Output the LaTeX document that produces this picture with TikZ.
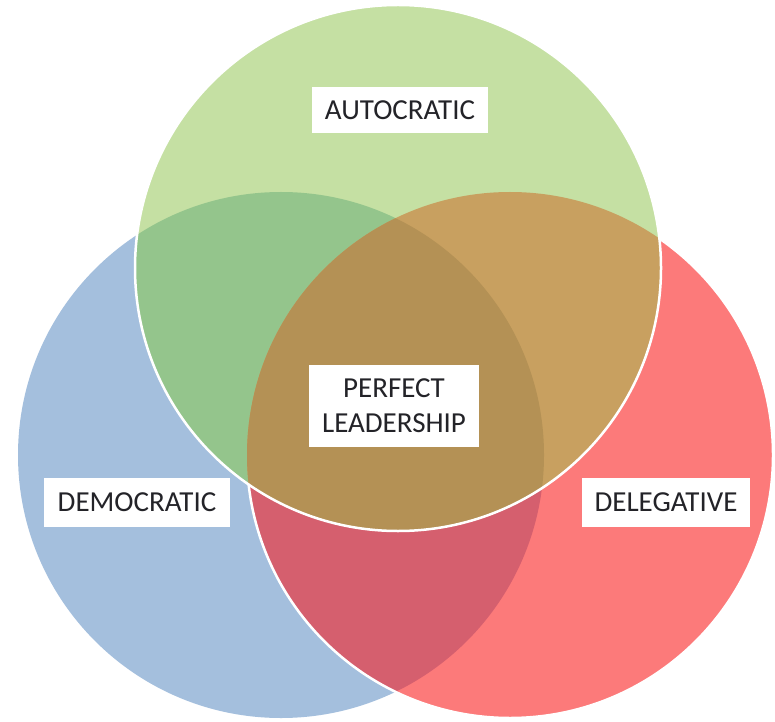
\documentclass[tikz,border=0pt]{standalone}
\usepackage{fontspec}
\setmainfont{Carlito}
\usepackage{xcolor}
\definecolor{grn}{RGB}{197,224,163}
\definecolor{blu}{RGB}{164,191,221}
\definecolor{rd}{RGB}{252,122,122}
\definecolor{grnblu}{RGB}{148,197,140}
\definecolor{grnrd}{RGB}{200,160,96}
\definecolor{blurd}{RGB}{213,95,110}
\definecolor{mid}{RGB}{180,145,85}
\definecolor{txt}{RGB}{35,35,40}

\begin{document}
\begin{tikzpicture}[x=1pt,y=1pt,
  label/.style={fill=white,text=txt,inner xsep=13pt,minimum height=46pt,
    font=\fontsize{29}{35}\selectfont,align=center},
  rim/.style={draw=white,line width=2.5pt}]
  \fill[white] (0,0) rectangle (775,721);
  \useasboundingbox (0,0) rectangle (775,721);
  \coordinate (gc) at (398,453);
  \coordinate (bc) at (281,266);
  \coordinate (rc) at (510,266);
  % circles and overlaps
  \fill[blu] (bc) circle (263);
  \fill[rd] (rc) circle (263);
  \begin{scope}
    \clip (bc) circle (263);
    \fill[blurd] (rc) circle (263);
  \end{scope}
  \draw[rim] (rc) circle (263);
  \fill[grn] (gc) circle (263);
  \begin{scope}
    \clip (gc) circle (263);
    \fill[grnblu] (bc) circle (263);
    \fill[grnrd] (rc) circle (263);
    \clip (bc) circle (263);
    \fill[mid] (rc) circle (263);
  \end{scope}
  \draw[rim] (gc) circle (263);
  % labels
  \node[label] (auto) at (400,611) {AUTOCRATIC};
  \node[label,minimum height=82pt] (perfect) at (394,315) {PERFECT\\LEADERSHIP};
  \node[label,minimum height=49pt,inner xsep=14pt] (demo) at (137,219) {DEMOCRATIC};
  \node[label,minimum height=49pt] (dele) at (666,219) {DELEGATIVE};
\end{tikzpicture}
\end{document}
